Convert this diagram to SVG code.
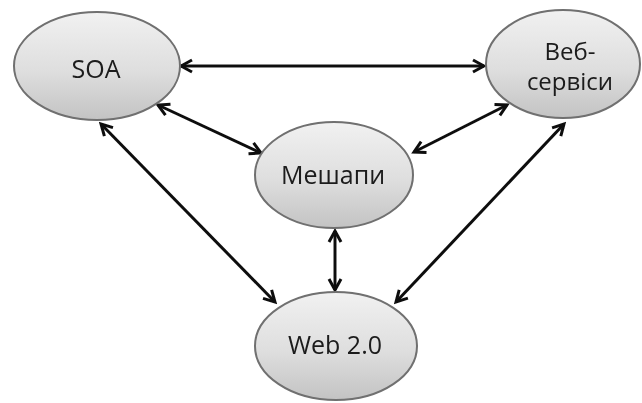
<svg xmlns="http://www.w3.org/2000/svg" width="642" height="403" viewBox="0 0 642 403">
  <style>
    .node ellipse { fill: url(#nodeFill); stroke: #6f6f6f; stroke-width: 2; }
    .node text { font-family: "Open Sans", "Noto Sans", "DejaVu Sans", sans-serif; font-size: 25px; fill: #1a1a1a; text-anchor: middle; }
    .node text.two-line { font-size: 24px; }
    .edge { stroke: #111; stroke-width: 3; fill: none; marker-start: url(#arrow); marker-end: url(#arrow); }
  </style>
  <defs>
    <linearGradient id="nodeFill" x1="0" y1="0" x2="0" y2="1">
      <stop offset="0" stop-color="#f1f1f1"/>
      <stop offset="0.55" stop-color="#dedede"/>
      <stop offset="1" stop-color="#c3c3c3"/>
    </linearGradient>
    <marker id="arrow" viewBox="0 0 16 16" refX="13" refY="8" markerWidth="16" markerHeight="16" markerUnits="userSpaceOnUse" orient="auto-start-reverse">
      <path d="M2,2 L13,8 L2,14" fill="none" stroke="#111" stroke-width="3" stroke-linejoin="miter"/>
    </marker>
    <filter id="soft" x="-5%" y="-5%" width="110%" height="110%">
      <feGaussianBlur stdDeviation="0.5"/>
    </filter>
  </defs>

  <rect width="642" height="403" fill="#ffffff"/>

  <g id="connectors" filter="url(#soft)">
    <line class="edge" x1="181" y1="66" x2="484" y2="66"/>
    <line class="edge" x1="158" y1="105" x2="261" y2="153"/>
    <line class="edge" x1="507" y1="105" x2="414" y2="152"/>
    <line class="edge" x1="335" y1="231" x2="335" y2="290"/>
    <line class="edge" x1="101" y1="124" x2="275" y2="302"/>
    <line class="edge" x1="564" y1="124" x2="396" y2="302"/>
  </g>

  <g id="soa" class="node" filter="url(#soft)">
    <ellipse cx="97" cy="66" rx="83" ry="54"/>
    <text x="96" y="78">SOA</text>
  </g>

  <g id="web-services" class="node" filter="url(#soft)">
    <ellipse cx="563" cy="64" rx="77" ry="54"/>
    <text class="two-line" x="570" y="60">Веб-<tspan x="570" dy="30">сервіси</tspan></text>
  </g>

  <g id="mashups" class="node" filter="url(#soft)">
    <ellipse cx="334" cy="175" rx="79" ry="53"/>
    <text x="333" y="184">Мешапи</text>
  </g>

  <g id="web20" class="node" filter="url(#soft)">
    <ellipse cx="336" cy="346" rx="81" ry="54"/>
    <text x="335" y="354">Web 2.0</text>
  </g>
</svg>
